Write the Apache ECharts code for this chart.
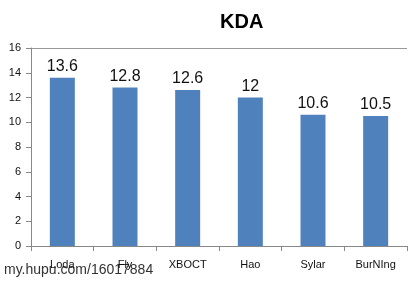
<!DOCTYPE html>
<html><head><meta charset="utf-8">
<script src="https://cdn.jsdelivr.net/npm/echarts@6/dist/echarts.min.js"></script>
<style>html,body{margin:0;padding:0;background:#fff}#c{width:418px;height:281px}</style>
</head><body><div id="c"></div>
<script>
var categories = ["Loda", "Fly", "XBOCT", "Hao", "Sylar", "BurNIng"];
var values = [13.6, 12.8, 12.6, 12, 10.6, 10.5];
var labels = ["13.6", "12.8", "12.6", "12", "10.6", "10.5"];
var chart = echarts.init(document.getElementById('c'));
chart.setOption({
  animation: false,
  backgroundColor: '#fff',
  title: {text: 'KDA', left: 215, top: 7,
    textStyle: {fontFamily: 'Liberation Sans', fontSize: 20, fontWeight: 'bold', color: '#000'}},
  grid: {left: 31, right: 11, top: 48, bottom: 35},
  xAxis: {type: 'category', data: categories,
    axisLine: {lineStyle: {color: '#888'}},
    axisTick: {show: true, length: 5, lineStyle: {color: '#888'}},
    axisLabel: {color: '#111', fontSize: 11, fontFamily: 'Liberation Sans', margin: 13}},
  yAxis: {type: 'value', min: 0, max: 16, interval: 2,
    axisLine: {show: true, lineStyle: {color: '#888'}},
    axisTick: {show: true, length: 5, lineStyle: {color: '#888'}},
    splitLine: {show: true, lineStyle: {color: ['rgba(0,0,0,0)','rgba(0,0,0,0)','rgba(0,0,0,0)','rgba(0,0,0,0)','rgba(0,0,0,0)','rgba(0,0,0,0)','rgba(0,0,0,0)','rgba(0,0,0,0)','#999']}},
    axisLabel: {color: '#111', fontSize: 11, fontFamily: 'Liberation Sans', margin: 10}},
  series: [{type: 'bar', data: values, barWidth: 25,
    itemStyle: {color: '#4f81bd'},
    label: {show: true, position: 'top', distance: 3, fontSize: 16, color: '#111',
      fontFamily: 'Liberation Sans',
      formatter: function(p){ return labels[p.dataIndex]; }}}],
  graphic: [{type: 'text', left: 4, top: 263, silent: true,
    style: {text: 'my.hupu.com/16017884', fontSize: 14, fontFamily: 'Liberation Sans', fill: '#333'}}]
});
</script></body></html>
